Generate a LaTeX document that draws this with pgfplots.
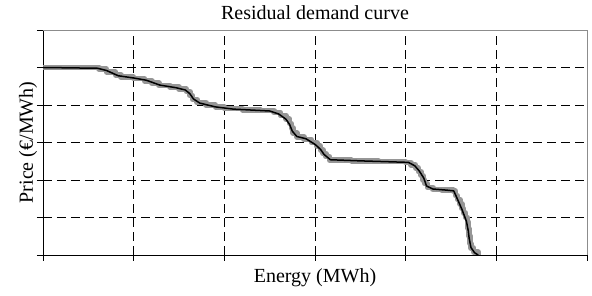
\documentclass[border=0pt]{standalone}
\usepackage{pgfplots}
\pgfplotsset{compat=1.18}
\usepackage{fontspec}
\setmainfont{Liberation Serif}
\definecolor{stepgray}{RGB}{150,150,150}
\definecolor{bordergray}{RGB}{140,140,140}
\begin{document}
\begin{tikzpicture}
\begin{axis}[
  at={(0,0)}, anchor=south west,
  scale only axis, width=544pt, height=225pt,
  xmin=0, xmax=6, ymin=0, ymax=6,
  axis lines=left,
  axis line style={-, black, line width=0.8pt},
  xtick={0,...,6}, ytick={0,...,6},
  xticklabels={}, yticklabels={},
  tick align=outside, major tick length=6pt,
  tick style={black, line width=0.8pt},
  grid=major,
  major grid style={black, line width=0.6pt, dash pattern=on 9pt off 5pt},
  xlabel={Energy (MWh)},
  xlabel style={at={(axis description cs:0.5,-0.1244)}, anchor=base, yshift=0pt, font=\fontsize{20}{24}\selectfont},
  ylabel={Price (€/MWh)},
  ylabel style={at={(axis description cs:-0.0184,0.5)}, anchor=base, font=\fontsize{20}{24}\selectfont},
  clip=false,
]
\addplot[const plot, stepgray, line width=5.5pt, line join=round] coordinates {
(0,5.00) (0.62,4.96) (0.70,4.88) (0.80,4.80) (0.86,4.74) (1.00,4.70)
(1.12,4.64) (1.20,4.58) (1.28,4.52) (1.40,4.48) (1.50,4.42) (1.58,4.36)
(1.62,4.25) (1.65,4.15) (1.70,4.06) (1.80,4.00) (1.90,3.95) (2.00,3.90)
(2.20,3.87) (2.40,3.85) (2.55,3.80) (2.62,3.72) (2.68,3.62) (2.72,3.50)
(2.74,3.38) (2.76,3.25) (2.80,3.15) (2.88,3.08) (2.96,3.00) (3.02,2.90)
(3.06,2.80) (3.09,2.70) (3.12,2.62) (3.16,2.53) (3.40,2.51) (3.70,2.49)
(4.00,2.46) (4.06,2.40) (4.11,2.32) (4.14,2.22) (4.17,2.12) (4.19,2.00)
(4.21,1.90) (4.24,1.80) (4.30,1.75) (4.40,1.73) (4.53,1.70) (4.55,1.58)
(4.57,1.48) (4.60,1.36) (4.62,1.24) (4.64,1.12) (4.66,1.00) (4.68,0.88)
(4.69,0.70) (4.70,0.50) (4.71,0.30) (4.72,0.18) (4.75,0.08) (4.80,0.00)
};
\addplot[black, line width=1.5pt, line join=round] coordinates {
(0,5.00) (0.60,4.98) (0.70,4.92) (0.83,4.78) (1.00,4.72) (1.14,4.66)
(1.29,4.53) (1.47,4.46) (1.57,4.40) (1.62,4.30) (1.66,4.16) (1.73,4.05)
(1.90,3.95) (2.10,3.89) (2.50,3.84) (2.60,3.76) (2.68,3.62) (2.72,3.48)
(2.75,3.30) (2.80,3.16) (2.90,3.10) (3.00,2.95) (3.06,2.82) (3.10,2.68)
(3.17,2.54) (3.50,2.51) (4.03,2.47) (4.10,2.38) (4.15,2.24) (4.20,2.05)
(4.23,1.84) (4.30,1.76) (4.45,1.73) (4.53,1.71) (4.56,1.55) (4.62,1.22)
(4.67,0.90) (4.69,0.65) (4.70,0.45) (4.72,0.20) (4.76,0.06) (4.80,0.00)
};
\draw[bordergray, line width=0.8pt] (rel axis cs:0,1) -- (rel axis cs:1,1) -- (rel axis cs:1,0);
\node[anchor=base, font=\fontsize{20}{24}\selectfont] at ([yshift=10.5pt]rel axis cs:0.5,1) {Residual demand curve};
\end{axis}
\pgfresetboundingbox
\useasboundingbox (-43pt,-41pt) rectangle (549pt,255pt);
\end{tikzpicture}
\end{document}
